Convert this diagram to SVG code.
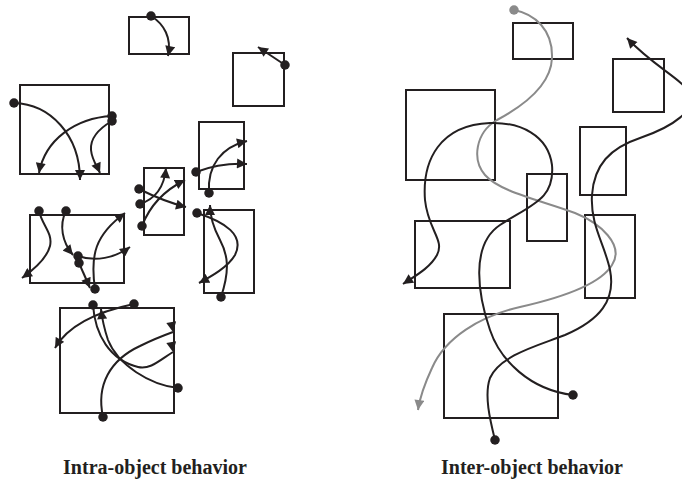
<svg xmlns="http://www.w3.org/2000/svg" width="682" height="481" viewBox="0 0 682 481">
<style>
.box{fill:none;stroke:#231f20;stroke-width:2}
.c{fill:none;stroke:#231f20;stroke-width:2;marker-start:url(#dot);marker-end:url(#ah)}
.g{fill:none;stroke:#8a8a8a;stroke-width:2;marker-start:url(#gdot);marker-end:url(#gah)}
.lbl{font-family:"Liberation Serif","Times New Roman",serif;font-weight:bold;font-size:20px;fill:#231f20;text-anchor:middle}
</style>
<defs>
<marker id="dot" viewBox="0 0 10 10" refX="5" refY="5" markerWidth="9.5" markerHeight="9.5" markerUnits="userSpaceOnUse"><circle cx="5" cy="5" r="5" fill="#231f20"/></marker>
<marker id="gdot" viewBox="0 0 10 10" refX="5" refY="5" markerWidth="9.5" markerHeight="9.5" markerUnits="userSpaceOnUse"><circle cx="5" cy="5" r="5" fill="#8a8a8a"/></marker>
<marker id="ah" viewBox="0 0 10 10" refX="10" refY="5" markerWidth="11" markerHeight="10" markerUnits="userSpaceOnUse" orient="auto"><path d="M0,0 L10,5 L0,10 z" fill="#231f20"/></marker>
<marker id="ahD" viewBox="0 0 10 10" refX="10" refY="5" markerWidth="11" markerHeight="10" markerUnits="userSpaceOnUse" orient="80"><path d="M0,0 L10,5 L0,10 z" fill="#231f20"/></marker>
<marker id="gah" viewBox="0 0 10 10" refX="10" refY="5" markerWidth="11" markerHeight="10" markerUnits="userSpaceOnUse" orient="auto"><path d="M0,0 L10,5 L0,10 z" fill="#8a8a8a"/></marker>
</defs>

<g id="intra-box1"><rect class="box" x="129" y="17" width="60" height="37"/></g>
<g id="intra-box2"><rect class="box" x="233" y="53" width="51" height="53"/></g>
<g id="intra-box3"><rect class="box" x="20" y="85" width="89" height="89"/></g>
<g id="intra-box4"><rect class="box" x="199" y="122" width="45" height="67"/></g>
<g id="intra-box5"><rect class="box" x="144" y="168" width="40" height="67"/></g>
<g id="intra-box6"><rect class="box" x="204" y="210" width="50" height="83"/></g>
<g id="intra-box7"><rect class="box" x="30" y="215" width="94" height="68"/></g>
<g id="intra-box8"><rect class="box" x="60" y="308" width="114" height="105"/></g>

<g id="inter-boxA"><rect class="box" x="513" y="23" width="60" height="36"/></g>
<g id="inter-boxB"><rect class="box" x="613" y="59" width="51" height="53"/></g>
<g id="inter-boxC"><rect class="box" x="406" y="90" width="89" height="90"/></g>
<g id="inter-boxD"><rect class="box" x="580" y="127" width="46" height="68"/></g>
<g id="inter-boxE"><rect class="box" x="527" y="174" width="40" height="67"/></g>
<g id="inter-boxF"><rect class="box" x="415" y="221" width="95" height="67"/></g>
<g id="inter-boxG"><rect class="box" x="585" y="215" width="50" height="83"/></g>
<g id="inter-boxH"><rect class="box" x="444" y="314" width="114" height="104"/></g>

<g id="connectors">
<path class="c" d="M151,16 C164,24 172,38 168,56"/>
<path class="c" d="M285,65 L258,47"/>
<path class="c" d="M14,103 C50,104 80,135 80,180"/>
<path class="c" d="M112,116 C75,118 45,140 39,173"/>
<path class="c" d="M112,121 C100,128 90,138 91,150 C92,160 97,166 100,173"/>
<path class="c" d="M196,172 C212,166 228,163 247,164"/>
<path class="c" d="M209,193 C207,165 222,147 247,141"/>
<path class="c" d="M139,189 C155,197 170,203 186,207"/>
<path class="c" d="M140,204 C152,200 164,190 166,168"/>
<path class="c" d="M142,226 C150,205 165,190 185,180"/>
<path class="c" d="M197,213 C225,222 245,235 235,255 C228,267 212,276 199,283"/>
<path class="c" d="M221,297 C230,270 228,255 220,240 C212,225 210,215 210,205"/>
<path class="c" d="M39,211 C42,225 53,233 50,246 C47,258 36,268 22,278"/>
<path class="c" d="M66,211 C59,225 62,242 73,255"/>
<path class="c" d="M78,256 C95,262 115,258 130,247"/>
<path class="c" d="M79,263 L90,288"/>
<path class="c" d="M95,289 C90,255 95,235 125,213"/>
<path class="c" d="M134,304 C105,310 70,322 55,348"/>
<path class="c" style="marker-end:url(#ahD)" d="M93,305 C95,335 110,360 138,367 C150,370 160,360 173,352"/>
<path class="c" d="M178,388 C150,385 118,365 108,340 C104,328 102,318 101,309"/>
<path class="c" style="marker-end:url(#ahD)" d="M103,417 C96,385 110,360 140,346 C152,340 162,336 173,332"/>

<path class="g" d="M514,10 C535,14 553,30 552,58 C551,85 525,105 497,120 C475,133 472,160 485,175 C500,192 540,200 575,213 C600,223 625,245 612,265 C600,285 560,298 520,307 C480,316 445,338 432,368 C425,383 420,396 418,410"/>
<path class="c" d="M573,395 C530,390 500,360 490,330 C478,295 470,245 500,225 C530,205 555,200 552,165 C548,135 520,122 490,123 C440,125 422,160 425,200 C428,230 445,240 437,255 C430,268 415,276 403,284"/>
<path class="c" d="M495,440 C490,420 484,395 490,378 C500,355 540,345 565,335 C600,320 616,300 610,270 C605,245 590,225 592,195 C594,165 610,148 640,138 C675,126 695,110 690,95 C685,80 655,68 627,38"/>
</g>

<text class="lbl" x="155" y="474">Intra-object behavior</text>
<text class="lbl" x="532" y="474">Inter-object behavior</text>
</svg>
